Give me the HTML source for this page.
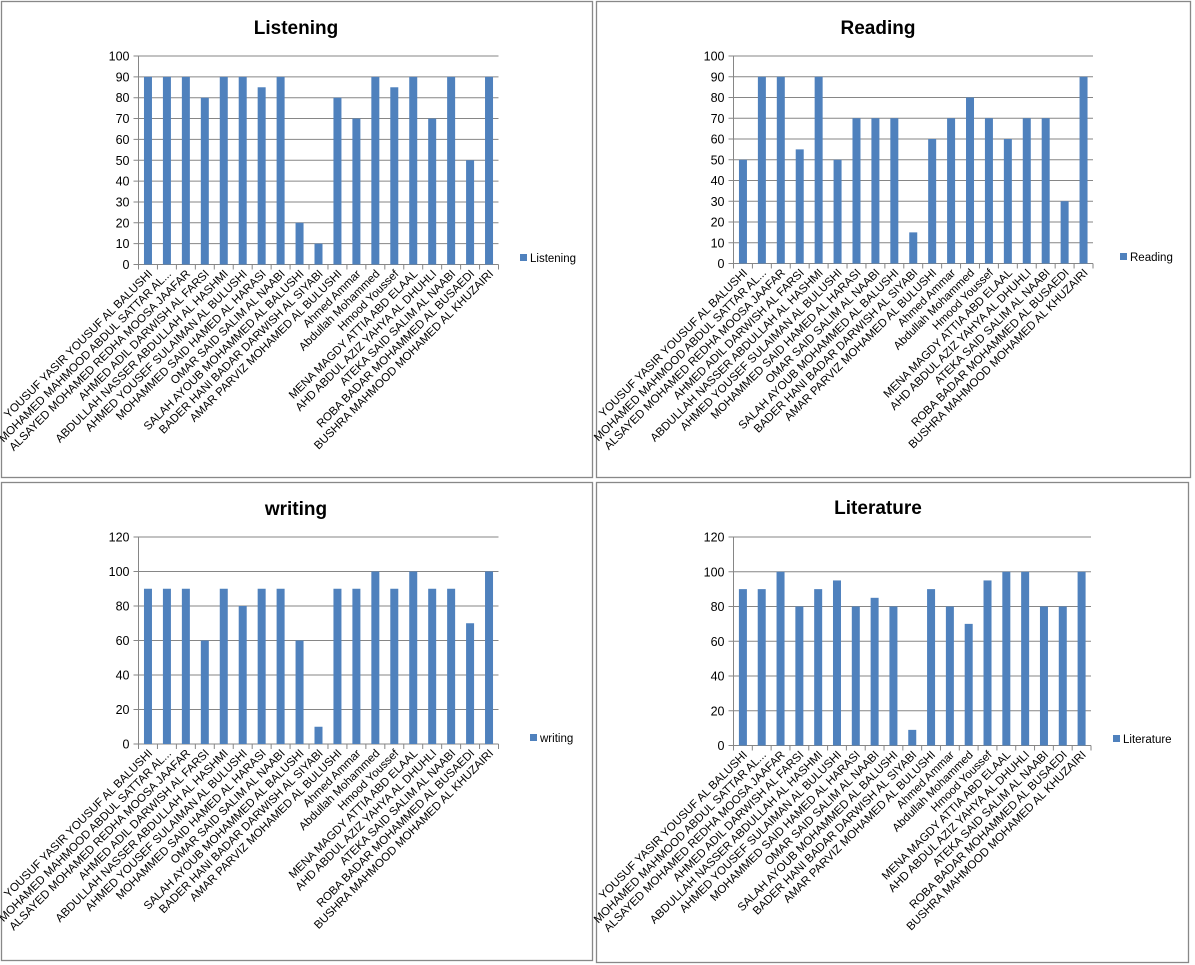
<!DOCTYPE html>
<html><head><meta charset="utf-8"><style>
html,body{margin:0;padding:0;background:#fff;}
svg{display:block;font-family:"Liberation Sans",sans-serif;}
</style></head><body>
<svg id="s" width="1195" height="965" xmlns="http://www.w3.org/2000/svg"></svg>
<script>
const names=["YOUSUF YASIR YOUSUF AL BALUSHI","MOHAMED MAHMOOD ABDUL SATTAR  AL...","ALSAYED MOHAMED REDHA MOOSA JAAFAR","AHMED ADIL DARWISH  AL FARSI","ABDULLAH NASSER ABDULLAH AL HASHMI","AHMED YOUSEF SULAIMAN AL BULUSHI","MOHAMMED SAID HAMED AL HARASI","OMAR SAID SALIM AL NAABI","SALAH AYOUB MOHAMMED  AL BALUSHI","BADER HANI BADAR DARWISH  AL SIYABI","AMAR PARVIZ MOHAMED AL BULUSHI","Ahmed Ammar","Abdullah Mohammed","Hmood Youssef","MENA MAGDY ATTIA  ABD  ELAAL","AHD ABDUL AZIZ  YAHYA  AL DHUHLI","ATEKA SAID SALIM AL NAABI","ROBA BADAR MOHAMMED AL BUSAEDI","BUSHRA MAHMOOD MOHAMED AL KHUZAIRI"];
const P=[
{t:"Listening",tx:296,ty:34,bx:[1,1,592,477],L:138.5,R:498.5,T:56,B:264.5,max:100,st:10,lx:520,ly:261,
d:[90,90,90,80,90,90,85,90,20,10,80,70,90,85,90,70,90,50,90]},
{t:"Reading",tx:878,ty:34,bx:[596,1,1190,477],L:733.5,R:1093,T:56,B:263.5,max:100,st:10,lx:1120,ly:260,
d:[50,90,90,55,90,50,70,70,70,15,60,70,80,70,60,70,70,30,90]},
{t:"writing",tx:296,ty:515,bx:[1,482,592,960],L:138.5,R:498.5,T:537,B:744,max:120,st:20,lx:530,ly:741,
d:[90,90,90,60,90,80,90,90,60,10,90,90,100,90,100,90,90,70,100]},
{t:"Literature",tx:878,ty:514,bx:[596,482,1188,962],L:733.5,R:1091,T:537,B:745.5,max:120,st:20,lx:1113,ly:742,
d:[90,90,100,80,90,95,80,85,80,9,90,80,70,95,100,100,80,80,100]}];
let h="";
for(const p of P){
 const [x1,y1,x2,y2]=p.bx;
 h+=`<rect x="${x1+.5}" y="${y1+.5}" width="${x2-x1}" height="${y2-y1}" fill="#fff" stroke="#888" stroke-width="1.3"/>`;
 h+=`<text x="${p.tx}" y="${p.ty}" font-size="19" font-weight="bold" text-anchor="middle">${p.t}</text>`;
 const H=p.B-p.T;
 for(let v=0;v<=p.max;v+=p.st){
  const y=p.B-v/p.max*H;
  h+=`<line x1="${p.L-5}" x2="${p.R}" y1="${y}" y2="${y}" stroke="#868686" stroke-width="1"/>`;
  h+=`<text x="${p.L-9}" y="${y+4.5}" font-size="12.5" text-anchor="end">${v}</text>`;
 }
 h+=`<line x1="${p.L}" x2="${p.L}" y1="${p.T}" y2="${p.B+5}" stroke="#868686"/>`;
 const w=(p.R-p.L)/19;
 for(let i=0;i<=19;i++){const x=p.L+i*w;h+=`<line x1="${x}" x2="${x}" y1="${p.B}" y2="${p.B+5}" stroke="#868686"/>`;}
 p.d.forEach((v,i)=>{
  const cx=p.L+(i+.5)*w, bh=v/p.max*H;
  h+=`<rect x="${cx-4}" y="${p.B-bh}" width="8" height="${bh}" fill="#4f81bd"/>`;
  h+=`<text transform="translate(${cx+5},${p.B+10}) rotate(-45)" font-size="11.5" text-anchor="end">${names[i]}</text>`;
 });
 h+=`<rect x="${p.lx}" y="${p.ly-7}" width="7" height="7" fill="#4f81bd"/>`;
 h+=`<text x="${p.lx+10}" y="${p.ly+1}" font-size="11.5">${p.t}</text>`;
}
document.getElementById("s").innerHTML=h;
</script>
</body></html>
